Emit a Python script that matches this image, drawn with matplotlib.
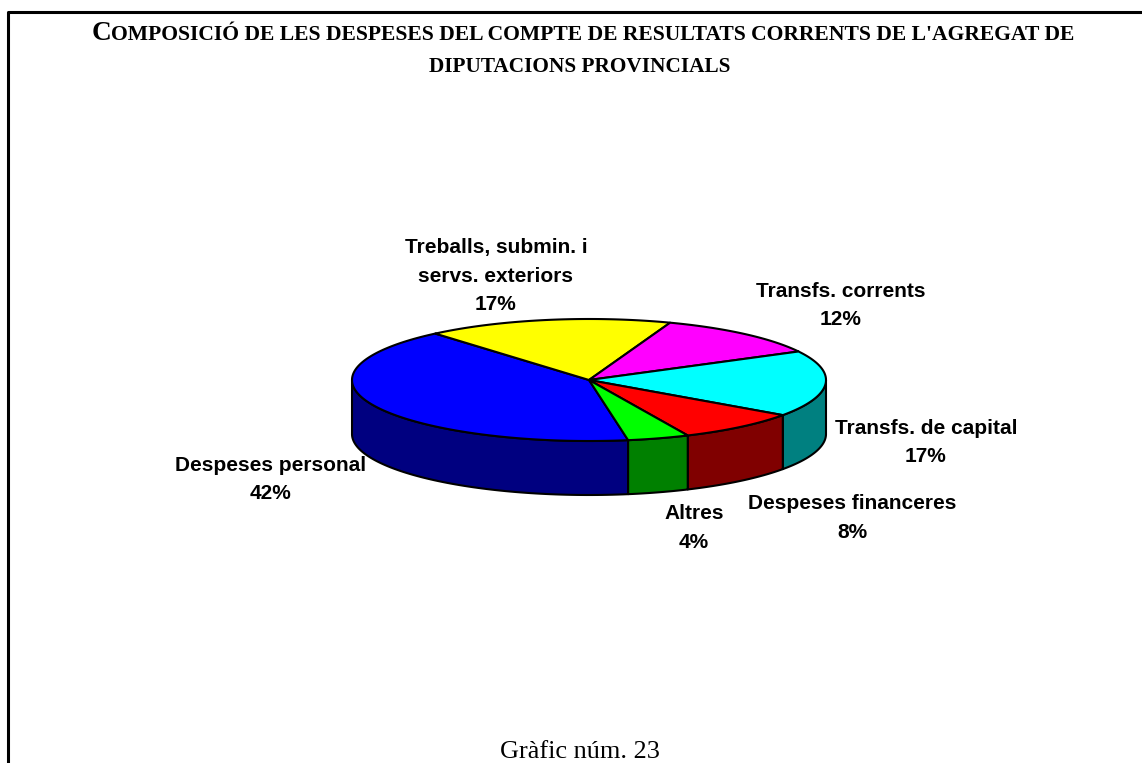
import numpy as np
import matplotlib
matplotlib.use("Agg")
import matplotlib.pyplot as plt
from matplotlib.patches import Polygon

# -----------------------------
# Data
# -----------------------------
categories = ["Despeses personal", "Treballs, submin. i\nservs. exteriors", "Transfs. corrents",
              "Transfs. de capital", "Despeses financeres", "Altres"]
# slice sizes, the printed labels are rounded
values = [41.4, 16.8, 11.7, 17.5, 8.4, 4.2]
percent_labels = ["42%", "17%", "12%", "17%", "8%", "4%"]
top_colors = ["#0000ff", "#ffff00", "#ff00ff", "#00ffff", "#ff0000", "#00ff00"]
side_colors = ["#000080", "#808000", "#800080", "#008080", "#800000", "#008000"]
label_pos = [(271, 479.5), (496, 276), (841, 305.5), (926, 442.5), (852, 518), (694, 528)]

title_line1 = "COMPOSICIÓ DE LES DESPESES DEL COMPTE DE RESULTATS CORRENTS DE L'AGREGAT DE"
title_line2 = "DIPUTACIONS PROVINCIALS"
footer = "Gràfic núm. 23"

# pie geometry, in pixels
cx, cy = 589, 380
rx, ry = 237, 61
depth = 54
start_angle = -80.5


def ell(t):
    t = np.radians(t)
    return cx + rx * np.cos(t), cy - ry * np.sin(t)


fig = plt.figure(figsize=(11.42, 7.63), dpi=100)
ax = fig.add_axes([0, 0, 1, 1])
ax.set_xlim(0, 1142)
ax.set_ylim(763, 0)
ax.axis("off")

# frame, open at the bottom and right
ax.plot([7.5, 7.5, 1142], [763, 11.5, 11.5], color="black", lw=2.2, solid_capstyle="butt")

# wedges go clockwise from the start angle
angles = start_angle - np.cumsum([0] + values) * 3.6

# side walls first
for i in range(len(values)):
    t = np.linspace(angles[i], angles[i + 1], 120)
    t = t[np.sin(np.radians(t)) <= 0]
    if len(t) < 2:
        continue
    x, y = ell(t)
    pts = np.r_[np.c_[x, y], np.c_[x[::-1], y[::-1] + depth]]
    ax.add_patch(Polygon(pts, closed=True, fc=side_colors[i], ec="black", lw=1.5, joinstyle="round", zorder=2))

# top faces
for i in range(len(values)):
    t = np.linspace(angles[i], angles[i + 1], 120)
    x, y = ell(t)
    pts = np.r_[[(cx, cy)], np.c_[x, y]]
    ax.add_patch(Polygon(pts, closed=True, fc=top_colors[i], ec="black", lw=1.5, joinstyle="round", zorder=3))

# labels
for name, pct, (lx, ly) in zip(categories, percent_labels, label_pos):
    ax.text(lx, ly, f"{name}\n{pct}", ha="center", va="center", fontsize=15, fontweight="bold",
            family="Liberation Sans", linespacing=1.62, zorder=4)


def small_caps(text, center, y, size=15.6, first=19.6):
    # the first letter of the title is a bigger capital
    r = fig.canvas.get_renderer()
    parts = [(text[0], first), (text[1:], size)]
    items = []
    total = 0
    for s, fs in parts:
        tx = ax.text(0, y, s, fontsize=fs, fontweight="bold", family="Liberation Serif", va="baseline")
        w = tx.get_window_extent(r).width
        items.append((tx, w))
        total += w
    x = center - total / 2
    for tx, w in items:
        tx.set_x(x)
        x += w


small_caps(title_line1, 583, 40.5)
ax.text(580, 72, title_line2, ha="center", va="baseline", fontsize=15.3, fontweight="bold", family="Liberation Serif")
ax.text(580, 758, footer, ha="center", va="baseline", fontsize=18.9, family="Liberation Serif")

fig.savefig("out.png", dpi=100)
